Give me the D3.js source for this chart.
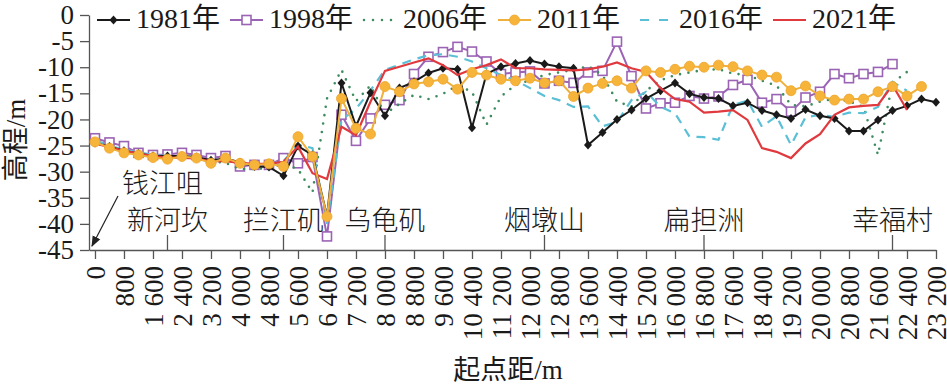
<!DOCTYPE html>
<html>
<head>
<meta charset="utf-8">
<script src="https://cdn.jsdelivr.net/npm/d3@7"></script>
<style>
  body { margin: 0; background: #fff; }
  text { fill: #1a1a1a; }
</style>
</head>
<body>
<script>
// 起点距 (m), one survey point every 400 m
const dist = [0, 400, 800, 1200, 1600, 2000, 2400, 2800, 3200, 3600, 4000, 4400, 4800, 5200, 5600,
  6000, 6400, 6800, 7200, 7600, 8000, 8400, 8800, 9200, 9600, 10000, 10400, 10800, 11200, 11600,
  12000, 12400, 12800, 13200, 13600, 14000, 14400, 14800, 15200, 15600, 16000, 16400, 16800, 17200,
  17600, 18000, 18400, 18800, 19200, 19600, 20000, 20400, 20800, 21200, 21600, 22000, 22400, 22800, 23200];

// 高程 (m) per survey year
const y1981 = [-24.5, -25.2, -26, -26.5, -27, -27, -27, -27.2, -27.8, -27.5, -28.2, -29, -29.1, -30.8, -25.1,
  -26.8, -38.5, -13, -21.3, -14.9, -19.3, -14, -12.8, -11.1, -10.2, -10.4, -21.6, -11.3, -9.9, -9.3,
  -8.7, -9.4, -9.9, -10.2, -24.9, -22.5, -20, -18.2, -16, -14.5, -13, -15.1, -15.8, -16,
  -17.4, -16.8, -18.3, -19.1, -19.8, -18.1, -19.3, -19.8, -22.2, -22.2, -20.1, -18.3, -17.4, -16.1, -16.7];
const y1998 = [-23.6, -24.4, -25.1, -26.4, -26.8, -26.7, -26.4, -26.8, -27.4, -27, -29, -28.7, -28.7, -27.4, -28.4,
  -27.2, -42.4, -19.1, -24.1, -19.8, -17.2, -16.3, -11.3, -8, -7.1, -6.1, -7, -8.9, -11.3, -11,
  -10.8, -13.1, -12.6, -13, -11, -10.7, -5.1, -11.7, -17.9, -16.9, -16.8, -15.5, -16, -15.6,
  -13.4, -12.4, -16.8, -16.1, -18.5, -15.8, -14.7, -11.3, -12.1, -11.3, -10.9, -9.4];
const y2006 = [-24, -25, -26, -26.5, -27, -27.2, -27.2, -27.5, -28, -28.3, -29.5, -29.5, -29.3, -28.5, -29.5,
  -34, -16, -10.5, -16.5, -13.5, -19, -17, -15.3, -16.1, -15.1, -13.5, -14.7, -21, -15.6, -13.4,
  -12.5, -11.5, -11, -10.5, -9.8, -11.5, -16.6, -17.5, -14.5, -12.5, -11.5, -11, -10.5, -10.4,
  -11.2, -11.5, -12.6, -13.5, -17.2, -17.5, -16.6, -16, -16.5, -17.6, -26.8, -13, -10.9];
const y2011 = [-24.3, -25.5, -26.4, -26.8, -27.3, -27.6, -27.1, -27.4, -28.4, -27.4, -28.4, -28.7, -28.5, -29, -23.3,
  -27.1, -38.6, -16, -21.7, -22.8, -13.7, -14.7, -13.2, -12.8, -12.3, -14.2, -11, -11.5, -12.3, -12.6,
  -12.1, -13, -12.6, -15.6, -14, -13.1, -12.6, -14, -10.7, -11, -10.4, -9.8, -10, -9.6,
  -9.9, -10.7, -11.5, -11.9, -14.5, -13.6, -15.5, -16.3, -16.1, -16.1, -14.7, -13.7, -15.5, -13.7];
const y2016 = [-24, -25, -25.8, -26.3, -26.8, -27, -27, -27.3, -27.8, -27.8, -28.3, -28.6, -28.6, -28, -24.8,
  -25.5, -40, -20.1, -18, -14.4, -10.5, -9.5, -8.5, -7.7, -7.5, -8, -8.9, -10.2, -11.5, -12.5,
  -14, -15.5, -16.3, -17.6, -17.5, -21.3, -20.5, -16.3, -14.7, -17.6, -18.8, -23.3, -23.4, -23.9,
  -17.2, -16.4, -21.4, -19.4, -24.9, -19.6, -19.1, -19.5, -18.7, -18.8, -17.6, -12.8, -14.5];
const y2021 = [-24.6, -25.3, -26, -26.5, -27, -27.3, -27.3, -27.5, -28, -28, -28.3, -28.5, -28.5, -28.1, -25.2,
  -30.3, -31.4, -21.4, -23, -16.6, -10.7, -9.9, -9.1, -8.3, -9.6, -11.5, -10.4, -9.6, -8.5, -10.2,
  -10.2, -10.4, -10.5, -10.6, -10.4, -9.9, -9.1, -10.2, -10.9, -14, -16.1, -16.6, -18.7, -18.5,
  -18.2, -20.1, -25.5, -26.2, -27.4, -24.6, -22.8, -19.1, -17.7, -17.4, -17.2, -13.4, -18.2];

// place names along the reach
const places = ['新河坎', '拦江矶', '乌龟矶', '烟墩山', '扁担洲', '幸福村'];
const placeDist = [2000, 5200, 8000, 12400, 16800, 22000];

const xTicks = [0, 800, 1600, 2400, 3200, 4000, 4800, 5600, 6400, 7200, 8000, 8800, 9600, 10400, 11200,
  12000, 12800, 13600, 14400, 15200, 16000, 16800, 17600, 18400, 19200, 20000, 20800, 21600, 22400, 23200];
const yTicks = [0, -5, -10, -15, -20, -25, -30, -35, -40, -45];

const width = 947, height = 386;
const serif = '"Liberation Serif", "Noto Sans CJK SC", serif';
const cjk = '"Noto Sans CJK SC", sans-serif';

const svg = d3.select('body').append('svg')
  .attr('width', width)
  .attr('height', height);

const x = d3.scaleLinear().domain([-165, 23200]).range([89, 936]);
const y = d3.scaleLinear().domain([-45, 0]).range([250, 15]);

const fmt = d3.formatLocale({ decimal: '.', thousands: ' ', grouping: [3], currency: ['', ''] }).format(',');

// x axis
const gx = svg.append('g')
  .attr('transform', 'translate(0,' + y(-45) + ')')
  .call(d3.axisBottom(x).tickValues(xTicks).tickSize(9).tickSizeOuter(0).tickFormat(fmt));
gx.selectAll('text')
  .attr('transform', 'rotate(-90)')
  .attr('x', -16).attr('y', 0).attr('dy', '0.35em')
  .style('text-anchor', 'end')
  .style('font-family', serif).style('font-size', '27px');

// y axis
const gy = svg.append('g')
  .attr('transform', 'translate(' + x.range()[0] + ',0)')
  .call(d3.axisLeft(y).tickValues(yTicks).tickSize(9).tickSizeOuter(0).tickPadding(6).tickFormat(d => String(d)));
gy.selectAll('text')
  .style('font-family', serif).style('font-size', '27px');

svg.selectAll('.domain, .tick line').attr('stroke', '#555').attr('stroke-width', 1.3);

// place markers
svg.append('g').selectAll('line')
  .data(placeDist)
  .join('line')
  .attr('x1', d => x(d)).attr('x2', d => x(d))
  .attr('y1', y(-45)).attr('y2', y(-45) - 15)
  .attr('stroke', '#555').attr('stroke-width', 1.3);
svg.append('g').selectAll('text')
  .data(places)
  .join('text')
  .attr('x', (d, i) => x(placeDist[i]))
  .attr('y', 230)
  .attr('text-anchor', 'middle')
  .style('font-family', cjk).style('font-size', '27px').style('font-weight', 300)
  .text(d => d);

// 钱江咀 arrow
svg.append('defs').append('marker')
  .attr('id', 'arr').attr('viewBox', '0 0 10 10').attr('refX', 9).attr('refY', 5)
  .attr('markerWidth', 9).attr('markerHeight', 9).attr('orient', 'auto')
  .append('path').attr('d', 'M0,1 L10,5 L0,9 Z').attr('fill', '#222');
svg.append('path')
  .attr('d', 'M118,196 L92,246')
  .attr('stroke', '#222').attr('stroke-width', 1.2)
  .attr('marker-end', 'url(#arr)');
svg.append('text')
  .attr('x', 122).attr('y', 193)
  .style('font-family', cjk).style('font-size', '27px').style('font-weight', 300)
  .text('钱江咀');

// axis titles
svg.append('text')
  .attr('transform', 'translate(16,140) rotate(-90)')
  .attr('text-anchor', 'middle').attr('dy', '0.35em')
  .style('font-family', serif).style('font-size', '27px')
  .text('高程/m');
svg.append('text')
  .attr('x', 508).attr('y', 379)
  .attr('text-anchor', 'middle')
  .style('font-family', serif).style('font-size', '27px')
  .text('起点距/m');

// series
const series = [
  { name: '1998年', values: y1998, color: '#9b63b4', width: 2, marker: 'square' },
  { name: '2006年', values: y2006, color: '#3d8c5f', width: 2.6, dash: '0 8.5' },
  { name: '2016年', values: y2016, color: '#5bbfd6', width: 2.2, dash: '9 7' },
  { name: '1981年', values: y1981, color: '#1a1a1a', width: 2, marker: 'diamond' },
  { name: '2021年', values: y2021, color: '#e0393e', width: 2.2 },
  { name: '2011年', values: y2011, color: '#f0b03c', width: 2, marker: 'circle' }
];

const line = d3.line()
  .x((v, i) => x(dist[i]))
  .y(v => y(v));

function drawMarker(sel, s, cx, cy) {
  if (s.marker === 'square') {
    sel.append('rect')
      .attr('x', cx - 4.5).attr('y', cy - 4.5).attr('width', 9).attr('height', 9)
      .attr('fill', '#fff').attr('stroke', s.color).attr('stroke-width', 1.6);
  } else if (s.marker === 'diamond') {
    sel.append('path')
      .attr('d', 'M' + cx + ',' + (cy - 4.5) + 'L' + (cx + 4) + ',' + cy + 'L' + cx + ',' + (cy + 4.5) + 'L' + (cx - 4) + ',' + cy + 'Z')
      .attr('fill', s.color);
  } else if (s.marker === 'circle') {
    sel.append('circle')
      .attr('cx', cx).attr('cy', cy).attr('r', 5)
      .attr('fill', '#f7b43a').attr('stroke', '#eea52c').attr('stroke-width', 0.8);
  }
}

series.forEach(s => {
  const g = svg.append('g');
  g.append('path')
    .attr('d', line(s.values))
    .attr('fill', 'none')
    .attr('stroke', s.color)
    .attr('stroke-width', s.width)
    .attr('stroke-linecap', s.dash && s.dash.startsWith('0') ? 'round' : 'butt')
    .attr('stroke-dasharray', s.dash || null);
  if (s.marker) {
    s.values.forEach((v, i) => drawMarker(g, s, x(dist[i]), y(v)));
  }
});

// legend
const legendOrder = ['1981年', '1998年', '2006年', '2011年', '2016年', '2021年'];
const legendX = [97, 230, 364, 498, 640, 773];
legendOrder.forEach((name, k) => {
  const s = series.find(d => d.name === name);
  const g = svg.append('g');
  const x0 = legendX[k], x1 = x0 + 33, ly = 20;
  g.append('line')
    .attr('x1', x0).attr('x2', x1).attr('y1', ly).attr('y2', ly)
    .attr('stroke', s.color).attr('stroke-width', s.width)
    .attr('stroke-linecap', s.dash && s.dash.startsWith('0') ? 'round' : 'butt')
    .attr('stroke-dasharray', s.dash ? (s.dash.startsWith('0') ? '0 9' : '9 10') : null);
  drawMarker(g, s, (x0 + x1) / 2, ly);
  g.append('text')
    .attr('x', x1 + 6).attr('y', 28)
    .style('font-family', serif).style('font-size', '28px')
    .text(name);
});
</script>
</body>
</html>
